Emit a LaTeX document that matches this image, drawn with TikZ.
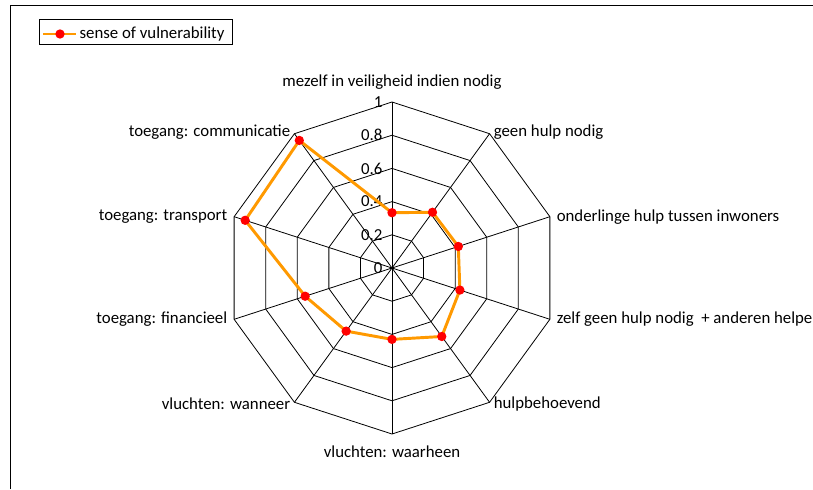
\documentclass[tikz,border=0pt]{standalone}
\usepackage{fontspec}
\setmainfont{Carlito}
\definecolor{seriesorange}{RGB}{255,153,0}
\tikzset{
  gridline/.style={black,line width=0.6pt,line join=miter},
  series/.style={seriesorange,line width=2.2pt,line join=round},
  datadot/.style={circle,fill=red,inner sep=0pt,minimum size=7pt},
  axislabel/.style={inner sep=1pt,font=\fontsize{12.6}{14}\selectfont},
  ticklabel/.style={inner sep=1pt,anchor=east,font=\fontsize{12.6}{14}\selectfont}
}
\begin{document}
\begin{tikzpicture}[x=0.75pt,y=-0.75pt]
    \useasboundingbox (0,0) rectangle (813,489);
    \draw[black,line width=0.75pt] (10,489) -- (10,5) -- (813,5);

    % legend
    \draw[black,line width=0.6pt] (39,19) rectangle (232,44);
    \coordinate (lega) at (43,34);
    \coordinate (legb) at (76,34);
    \draw[series] (lega) -- (legb);
    \node[datadot] (legdot) at (60,34) {};
    \node[axislabel,anchor=west] (legtext) at (78,34) {sense of vulnerability};

    \begin{scope}[shift={(392,268)},yscale=-1]
    \coordinate (c) at (0,0);
    % rings and spokes
    \foreach \r in {33.2,66.4,99.6,132.8,166} {
      \draw[gridline] (90:\r) \foreach \k in {1,...,9} { -- ({90-36*\k}:\r) } -- cycle;
    }
    \foreach \k in {0,...,9} {
      \coordinate (o\k) at ({90-36*\k}:166);
      \draw[gridline] (c) -- (o\k);
    }
    % tick labels
    \foreach \t/\lab in {0/0,1/0.2,2/0.4,3/0.6,4/0.8,5/1} {
      \node[ticklabel] (tick\t) at (-8,{33.2*\t}) {\lab};
    }
    % axis labels (yshift is flipped in this scope)
    \node[axislabel,anchor=south] (lab0) at ([yshift=-8pt]o0) {mezelf in veiligheid indien nodig};
    \node[axislabel,anchor=west] (lab1) at ([xshift=2pt,yshift=-1pt]o1) {geen hulp nodig};
    \node[axislabel,anchor=west] (lab2) at ([xshift=4pt]o2) {onderlinge hulp tussen inwoners};
    \node[axislabel,anchor=west] (lab3) at ([xshift=4pt]o3) {zelf geen hulp nodig\ \ + anderen helpen};
    \node[axislabel,anchor=west] (lab4) at ([xshift=2pt,yshift=1pt]o4) {hulpbehoevend};
    \node[axislabel,anchor=north] (lab5) at ([yshift=7.5pt]o5) {vluchten: waarheen};
    \node[axislabel,anchor=east] (lab6) at ([xshift=-2pt,yshift=1pt]o6) {vluchten: wanneer};
    \node[axislabel,anchor=east] (lab7) at ([xshift=-4pt]o7) {toegang: financieel};
    \node[axislabel,anchor=east] (lab8) at ([xshift=-4pt]o8) {toegang: transport};
    \node[axislabel,anchor=east] (lab9) at ([xshift=-2pt,yshift=-1pt]o9) {toegang: communicatie};

    % data
    \foreach \k/\v in {0/0.333,1/0.415,2/0.42,3/0.43,4/0.51,5/0.43,6/0.47,7/0.55,8/0.93,9/0.95} {
      \coordinate (d\k) at ({90-36*\k}:{166*\v});
    }
    \draw[series] (d0) -- (d1) -- (d2) -- (d3) -- (d4) -- (d5) -- (d6) -- (d7) -- (d8) -- (d9) -- cycle;
    \foreach \k in {0,...,9} {
      \node[datadot] (dot\k) at (d\k) {};
    }
    \end{scope}
\end{tikzpicture}
\end{document}
